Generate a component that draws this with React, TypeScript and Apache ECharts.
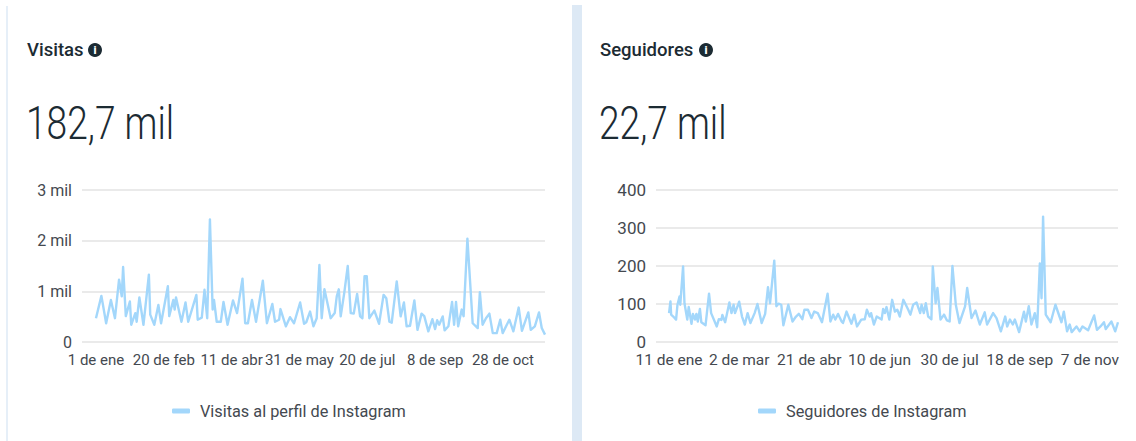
import React, { useEffect, useRef } from "react";
import * as echarts from "echarts";

const visitTickDays = [0, 50, 100, 150, 200, 250, 300];
const visitTickLabels = ["1 de ene", "20 de feb", "11 de abr", "31 de may", "20 de jul", "8 de sep", "28 de oct"];
const followerTickLabels = ["11 de ene", "2 de mar", "21 de abr", "10 de jun", "30 de jul", "18 de sep", "7 de nov"];
const visitYTicks = ["0", "1 mil", "2 mil", "3 mil"];

// Day offset and value of each visible vertex of the line
const visitDays = [0,4,7.5,11,14,17,19,20,22,25,26,29,30,32,35,39,40,43,46,48,53,54,57,58,59,63,66,68,74,75,78,80,82,84,86,87,89,92,94,97,101,104,108,110,112,115,118,123,126,130,132,135,136,140,143,146,150.5,153.4,155,157.8,160.3,162.7,164.7,166.4,168.4,170.6,173,176,177.5,179,180.4,183,185.6,187.8,190,192.5,194.7,196.4,198,199.6,201.5,205.2,208.7,212,214,216.3,218,221.7,224.6,227,229,231.5,234.7,237,240,242,245,248,250,251.5,253,255.6,257,259.8,262.5,264,265.4,267,269.6,271,273.8,277.7,281.4,283,285,287.5,290,292.5,295.4,298,299.8,304.7,307.7,311.6,314,318.7,320.5,323.5,326.6,328.6,331];
const visitValues = [470,910,370,830,470,1230,900,1480,510,800,340,570,400,880,340,1330,540,340,730,370,1100,510,830,640,880,400,780,400,930,440,480,1030,470,2420,640,830,400,400,790,340,820,570,1250,370,370,830,400,1210,370,750,400,440,650,310,490,370,780,360,390,600,310,470,1520,470,1040,770,470,570,900,1040,505,965,1500,570,560,950,505,470,1300,1300,470,620,360,930,865,400,380,1195,505,780,310,320,820,240,560,510,210,450,255,430,340,505,230,310,790,340,790,310,640,510,2040,370,275,985,340,470,560,175,175,440,175,440,210,680,220,585,240,310,585,275,145];

const followerDays = [0,1,1.5,3,5,6,7.5,8,10,11,13,14,16,17,18.5,19.5,20.5,22,23,26,28.5,30,34,35.5,37.3,38,40,43,44.5,46,47,50,52,54,56,58,61,63,66,68.5,70.5,72,75,76.5,78,80,81.5,85,88,90.5,92.5,95,96.5,99,101.5,103.5,106,109,113,115,117,118.5,120.5,123,124,126.5,130,132,134,137,139.5,141,143,144,146,148,151.5,152.6,153.8,155,157,159,161,162.7,164.5,167,170.5,172,174,176.4,179,180,181.6,183,184.7,187,188,190,191.3,193.5,196,198,200,202,204.4,207,211,212.5,215.6,218.4,221.5,225,226.7,231,233.4,236.5,239.6,241,243,245,246.5,249.5,253,254.3,256.4,258.3,260.7,262.4,264.3,265.5,266.6,268.5,272,275.4,279.7,281.4,283.7,285.6,287,290.4,292.7,294.7,298.7,303,305,307.5,310,311.3,315.3,318,320];
const followerValues = [76,107,72,67,59,98,120,98,199,102,59,92,48,74,59,74,54,87,52,44,127,76,41,60,58,71,52,104,76,98,76,106,67,46,76,50,76,100,50,74,144,102,214,94,101,98,44,98,54,67,74,60,85,85,63,80,76,52,127,54,72,59,74,54,50,80,48,72,41,59,60,85,67,76,46,67,59,87,76,92,59,111,80,85,67,111,85,72,98,104,76,98,76,102,67,60,199,102,142,59,72,57,54,200,98,50,94,142,63,83,46,78,46,76,63,28,67,41,59,46,59,26,80,54,94,46,76,39,207,115,330,72,52,98,52,80,28,46,26,41,28,41,31,70,32,41,52,34,54,28,52];

const textDark = "#1c2b33";
const axisText = "#444950";
const lineBlue = "#a3d7fb";
const gridGrey = "#e3e3e3";
const uiFont = "Roboto";

function axes(gridIndex: number, min: number, max: number, labels: string[], yMax: number, yInterval: number, yFmt: (v: number) => string, xSize: number, ySize: number) {
  return {
    x: {
      type: "value", gridIndex, min, max, splitLine: { show: false }, axisLine: { show: false },
      axisTick: { show: false },
      axisLabel: {
        customValues: visitTickDays, margin: 10, fontSize: xSize, color: axisText, fontFamily: uiFont,
        formatter: (v: number) => labels[visitTickDays.indexOf(v)] ?? "",
      },
    },
    y: {
      type: "value", gridIndex, min: 0, max: yMax, interval: yInterval,
      axisLine: { show: false }, axisTick: { show: false },
      splitLine: { lineStyle: { color: gridGrey, width: 1.5 } },
      axisLabel: { margin: 10, fontSize: ySize, color: axisText, fontFamily: uiFont, formatter: yFmt },
    },
  };
}

function header(title: string, big: string, x: number, iconX: number) {
  return [
    { type: "text", x, y: 40, style: { text: title, fontSize: 18.5, fontWeight: 500, fontFamily: uiFont, fill: textDark } },
    { type: "circle", shape: { cx: iconX, cy: 50, r: 7 }, style: { fill: textDark } },
    { type: "text", x: iconX, y: 50, style: { text: "i", fontSize: 11, fontWeight: 900, fontFamily: uiFont, fill: "#ffffff", align: "center", verticalAlign: "middle" } },
    { type: "text", x: x - 1, y: 99, scaleX: 0.79, style: { text: big, fontSize: 47, fontWeight: 300, fontFamily: uiFont, fill: textDark } },
  ];
}

export default function App() {
  const ref = useRef<HTMLDivElement>(null);
  useEffect(() => {
    document.body.style.margin = "0";
    const chart = echarts.init(ref.current!, null, { renderer: "svg" });
    const a = axes(0, -10.3, 331, visitTickLabels, 3000, 1000, (v) => visitYTicks[v / 1000], 15, 16);
    const b = axes(1, -9.3, 320, followerTickLabels, 400, 100, (v) => String(v), 15.5, 17);
    chart.setOption({
      animation: false,
      backgroundColor: "#ffffff",
      grid: [
        { left: 82, top: 190, width: 463, height: 152 },
        { left: 656, top: 190, width: 462, height: 152 },
      ],
      xAxis: [a.x, b.x],
      yAxis: [a.y, b.y],
      legend: [
        {
          left: 167, top: 398, icon: "roundRect", itemWidth: 18, itemHeight: 5, itemGap: 0,
          data: ["Visitas al perfil de Instagram"],
          textStyle: { fontSize: 16.3, color: axisText, fontFamily: uiFont, padding: [0, 0, 0, 5] },
        },
        {
          left: 753, top: 398, icon: "roundRect", itemWidth: 18, itemHeight: 5, itemGap: 0,
          data: ["Seguidores de Instagram"],
          textStyle: { fontSize: 16.3, color: axisText, fontFamily: uiFont, padding: [0, 0, 0, 5] },
        },
      ],
      series: [
        {
          name: "Visitas al perfil de Instagram", type: "line", xAxisIndex: 0, yAxisIndex: 0,
          showSymbol: false, lineStyle: { color: lineBlue, width: 2.4, join: "round" }, itemStyle: { color: lineBlue },
          data: visitDays.map((d, i) => [d, visitValues[i]]),
        },
        {
          name: "Seguidores de Instagram", type: "line", xAxisIndex: 1, yAxisIndex: 1,
          showSymbol: false, lineStyle: { color: lineBlue, width: 2.4, join: "round" }, itemStyle: { color: lineBlue },
          data: followerDays.map((d, i) => [d, followerValues[i]]),
        },
      ],
      graphic: [
        { type: "rect", shape: { x: 6, y: 6, width: 2, height: 435 }, style: { fill: "#e6eff8" }, silent: true },
        { type: "rect", shape: { x: 572, y: 5, width: 10, height: 436 }, style: { fill: "#dde9f5" }, silent: true },
        ...header("Visitas", "182,7 mil", 27, 95),
        ...header("Seguidores", "22,7 mil", 600, 706),
      ],
    });
    return () => chart.dispose();
  }, []);
  return <div ref={ref} style={{ width: 1136, height: 441 }} />;
}
